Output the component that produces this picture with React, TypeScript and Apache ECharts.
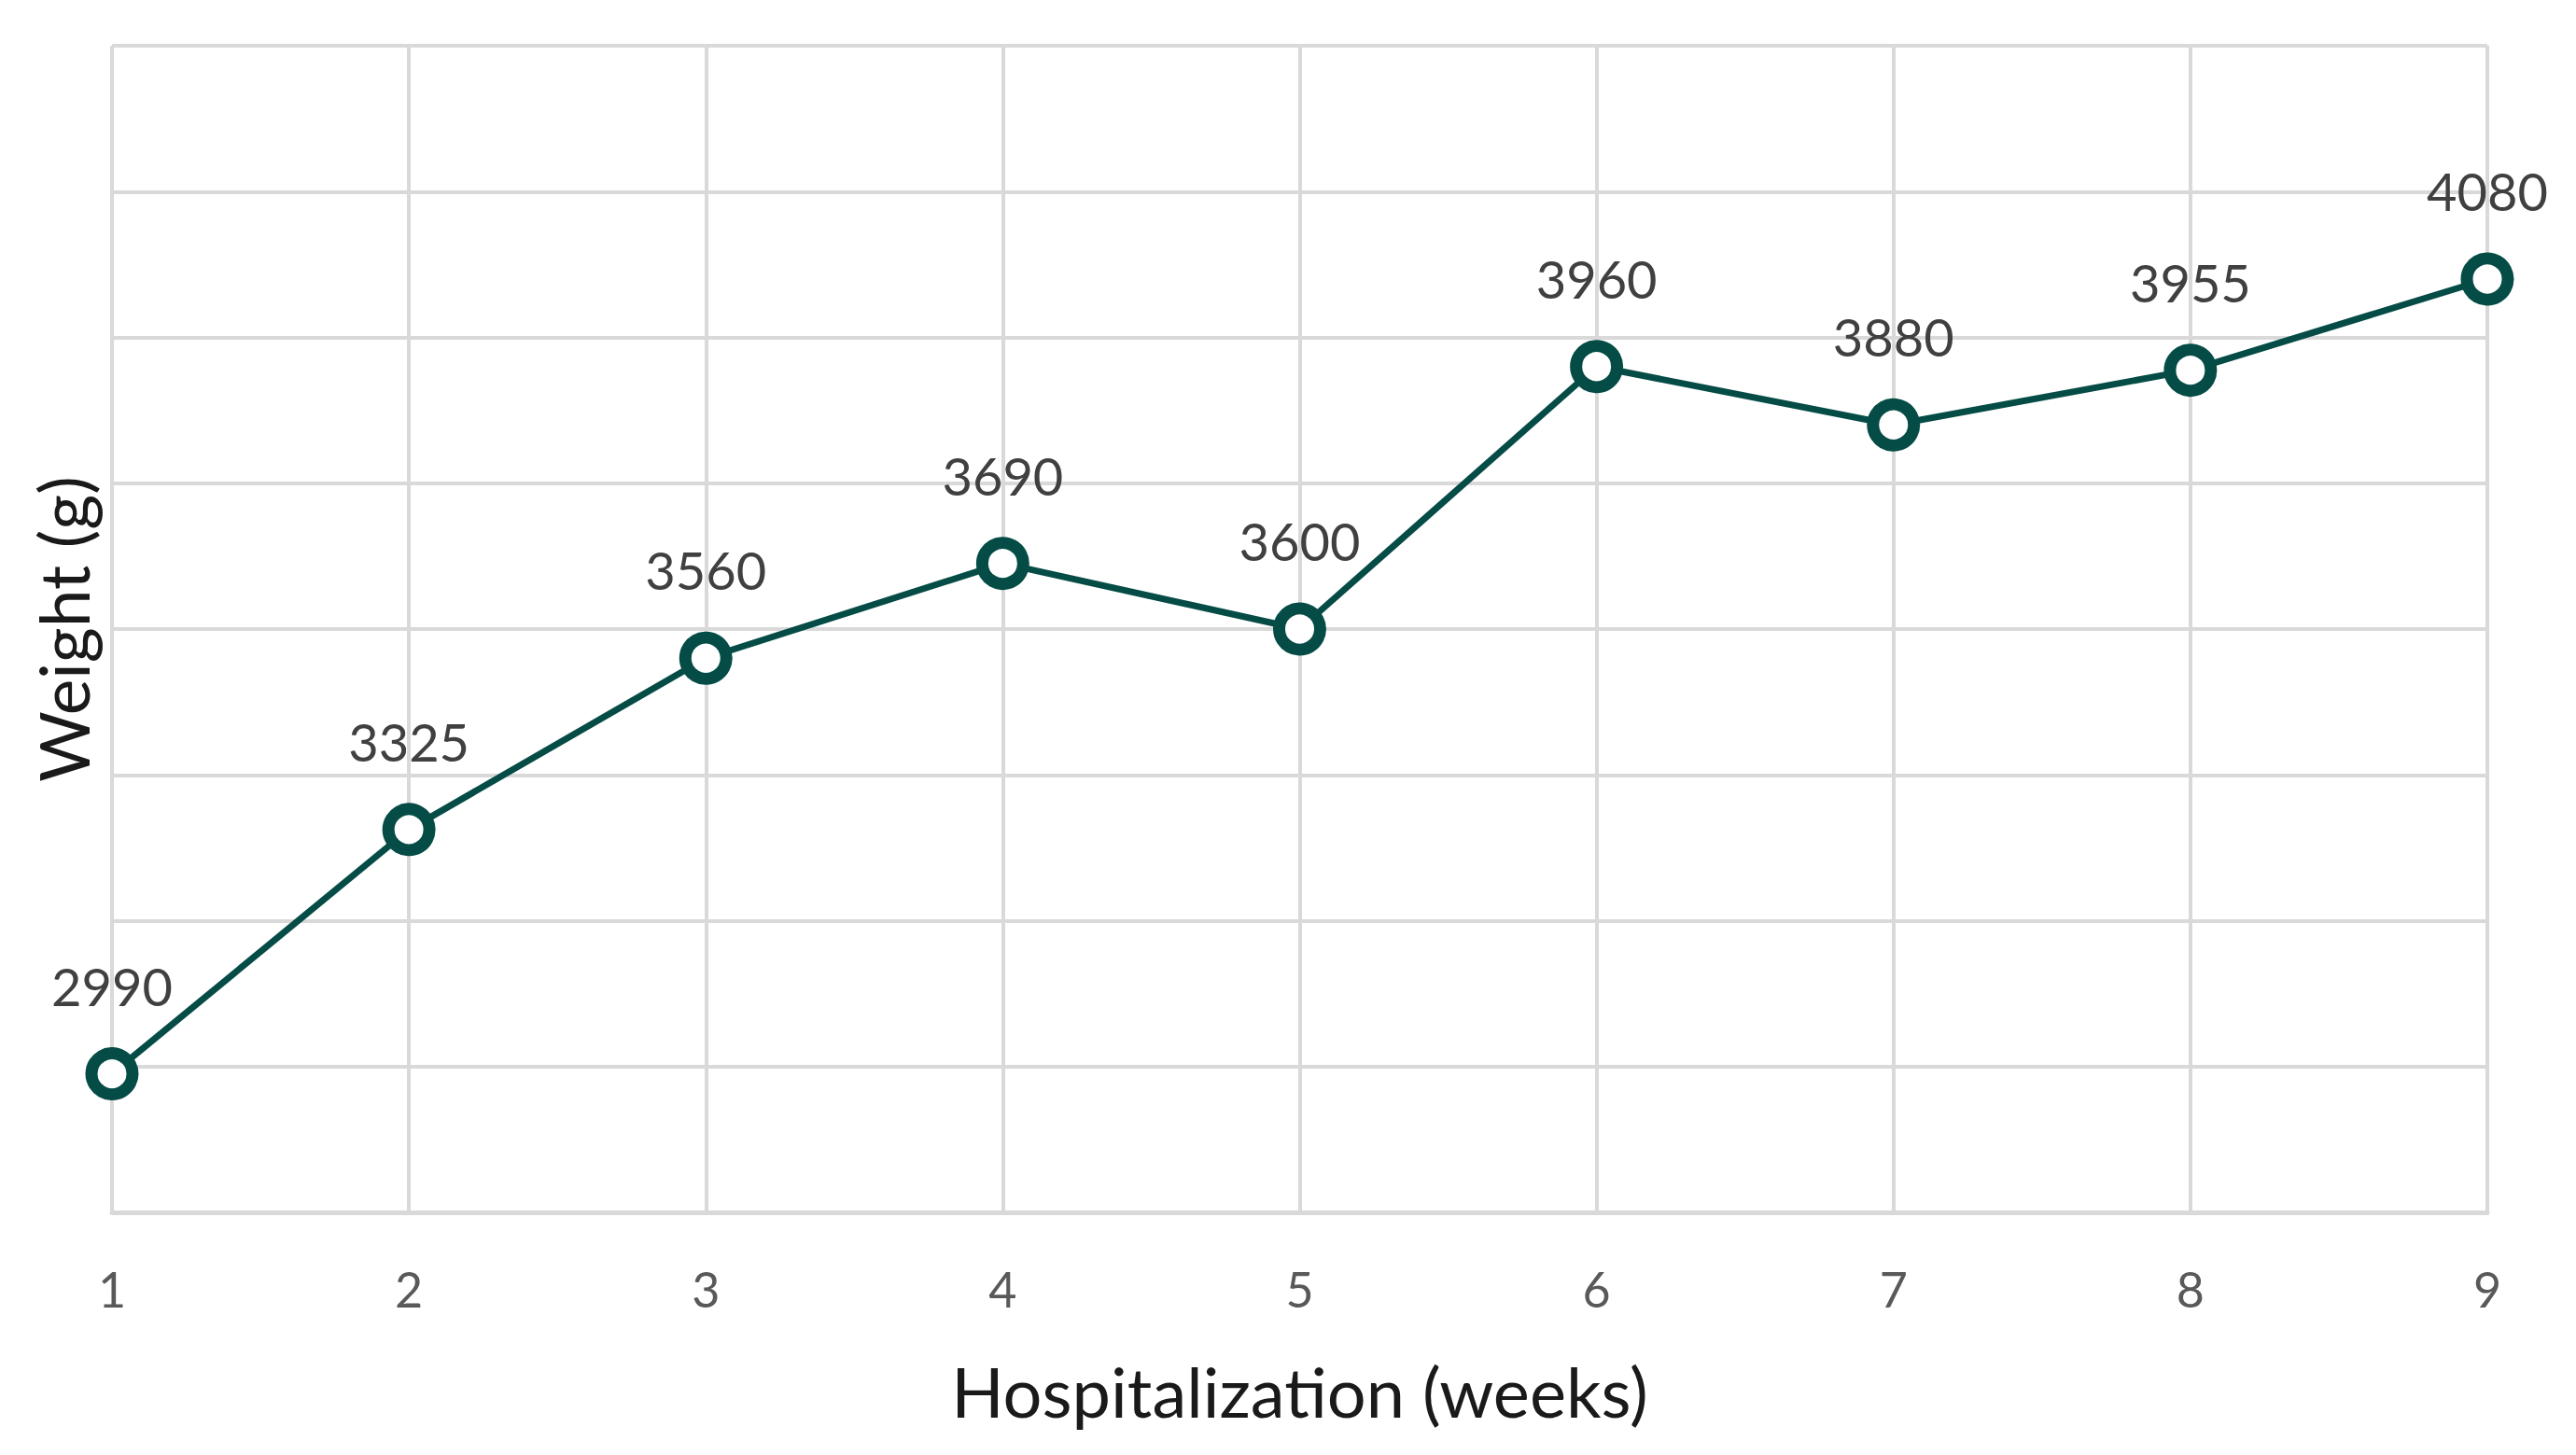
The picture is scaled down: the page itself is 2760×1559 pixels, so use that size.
import React, { useEffect, useRef } from "react";
import * as echarts from "echarts";

const weeks = ["1", "2", "3", "4", "5", "6", "7", "8", "9"];
const weights = [2990, 3325, 3560, 3690, 3600, 3960, 3880, 3955, 4080];
const yMin = 2800;
const yMax = 4400;
const yStep = 200;

export default function App() {
  const ref = useRef<HTMLDivElement>(null);
  useEffect(() => {
    document.body.style.margin = "0";
    const chart = echarts.init(ref.current!, undefined, { renderer: "svg" });
    chart.setOption({
      animation: false,
      backgroundColor: "#ffffff",
      textStyle: { fontFamily: "Lato" },
      grid: { left: 120, right: 95, top: 49, bottom: 260, containLabel: false },
      xAxis: {
        type: "category",
        data: weeks,
        boundaryGap: false,
        name: "Hospitalization (weeks)",
        nameLocation: "middle",
        nameGap: 154,
        nameTextStyle: { fontSize: 74, color: "#1a1a1a", fontFamily: "Lato" },
        axisLine: { show: true, lineStyle: { color: "#d9d9d9", width: 5 } },
        axisTick: { show: false },
        axisLabel: { fontSize: 52, color: "#595959", margin: 56, fontFamily: "Lato" },
        splitLine: { show: true, lineStyle: { color: "#d9d9d9", width: 4 } },
      },
      yAxis: {
        type: "value",
        min: yMin,
        max: yMax,
        interval: yStep,
        name: "Weight (g)",
        nameLocation: "middle",
        nameGap: 16,
        nameTextStyle: { fontSize: 73, color: "#1a1a1a", fontFamily: "Lato" },
        axisLine: { show: false },
        axisTick: { show: false },
        axisLabel: { show: false },
        splitLine: { show: true, lineStyle: { color: "#d9d9d9", width: 4 } },
      },
      series: [
        {
          type: "line",
          data: weights,
          symbol: "circle",
          symbolSize: 44,
          lineStyle: { color: "#054c46", width: 7 },
          itemStyle: { color: "#ffffff", borderColor: "#054c46", borderWidth: 13 },
          label: {
            show: true,
            position: "top",
            distance: 38,
            fontSize: 56,
            color: "#404040",
            fontFamily: "Lato",
          },
          z: 5,
        },
      ],
    });
    return () => chart.dispose();
  }, []);
  return (
    <div
      ref={ref}
      style={{ position: "fixed", left: 0, top: 0, width: 2760, height: 1559 }}
    />
  );
}
